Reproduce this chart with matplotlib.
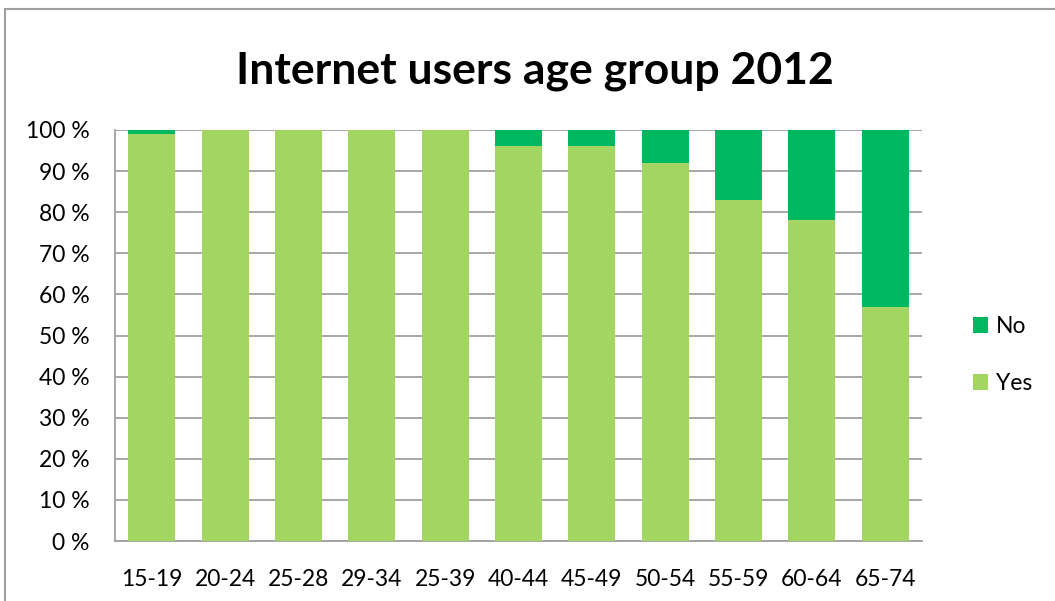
import matplotlib
matplotlib.use("Agg")
import matplotlib.pyplot as plt
from matplotlib.patches import Rectangle
import numpy as np

plt.rcParams['font.family'] = ['Lato', 'DejaVu Sans']

age_groups = ["15-19", "20-24", "25-28", "29-34", "25-39", "40-44",
              "45-49", "50-54", "55-59", "60-64", "65-74"]
yes_share = [99, 100, 100, 100, 100, 96, 96, 92, 83, 78, 57]
no_share = [1, 0, 0, 0, 0, 4, 4, 8, 17, 22, 43]
y_ticks = [0, 10, 20, 30, 40, 50, 60, 70, 80, 90, 100]
y_tick_labels = [f"{v} %" for v in y_ticks]

YES_COLOR = "#A2D561"
NO_COLOR = "#00B860"
GRID_COLOR = "#A0A0A0"

W, H = 1055, 601
fig = plt.figure(figsize=(W / 100, H / 100), dpi=100)

# chart-area frame
fig.patches.append(Rectangle((5 / W, -0.1), 1.2, (1 - 9 / H) + 0.1,
                             transform=fig.transFigure, fill=False,
                             edgecolor=GRID_COLOR, linewidth=1.5, zorder=0))

left, right, top, bottom = 115, 922, 130, 541
ax = fig.add_axes([left / W, (H - bottom) / H, (right - left) / W, (bottom - top) / H])

x = np.arange(len(age_groups))
bar_w = 0.64
ax.bar(x, yes_share, width=bar_w, color=YES_COLOR, label="Yes", zorder=3)
ax.bar(x, no_share, width=bar_w, bottom=yes_share, color=NO_COLOR, label="No", zorder=3)

ax.set_xlim(-0.5, len(age_groups) - 0.5)
ax.set_ylim(0, 100)
ax.set_yticks(y_ticks)
ax.set_yticklabels(y_tick_labels)
ax.set_xticks(x)
ax.set_xticklabels(age_groups)
ax.tick_params(axis='both', length=0, labelsize=16.5, colors="black")
ax.tick_params(axis='y', pad=18.5)
ax.tick_params(axis='x', pad=20)

ax.yaxis.grid(True, color=GRID_COLOR, linewidth=1.3, zorder=0)
ax.set_axisbelow(True)
for side in ("top", "right"):
    ax.spines[side].set_visible(False)
for side in ("left", "bottom"):
    ax.spines[side].set_color(GRID_COLOR)
    ax.spines[side].set_linewidth(1.3)

fig.text(535 / W, 1 - 71 / H, "Internet users age group 2012",
         ha="center", va="center", fontsize=32, fontweight="bold")

handles, labels = ax.get_legend_handles_labels()
leg = fig.legend(handles[::-1], labels[::-1], loc="center left",
                 bbox_to_anchor=(952 / W, 1 - 355 / H), frameon=False,
                 fontsize=16.5, handlelength=0.68, handleheight=0.68,
                 handletextpad=0.32, labelspacing=1.6)

fig.savefig("out.png", dpi=100)
